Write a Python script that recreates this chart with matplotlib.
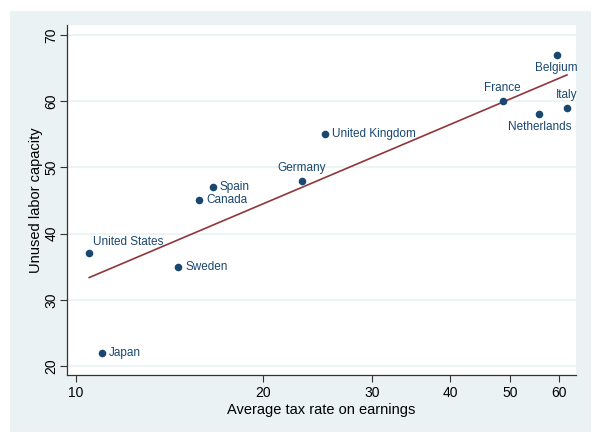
import numpy as np
import matplotlib
matplotlib.use("Agg")
import matplotlib.pyplot as plt
from matplotlib.patches import Rectangle
from matplotlib.ticker import FixedLocator, NullLocator

plt.rcParams['font.family'] = ['Liberation Sans', 'DejaVu Sans']

# data
countries = ["Belgium", "France", "Italy", "Netherlands", "United Kingdom",
             "Germany", "Spain", "Canada", "United States", "Sweden", "Japan"]
tax_rate = [59.4, 48.6, 61.7, 55.7, 25.2, 23.1, 16.6, 15.8, 10.5, 14.6, 11.0]
unused_capacity = [67, 60, 59, 58, 55, 48, 47, 45, 37, 35, 22]
# where the label sits relative to its marker
label_pos = ["below", "above", "above", "below", "right",
             "above", "right", "right", "upright", "right", "right"]

xticks = [10, 20, 30, 40, 50, 60]
yticks = [20, 30, 40, 50, 60, 70]

navy = "#1a476f"
maroon = "#90353b"
panel = "#eaf2f3"

fig = plt.figure(figsize=(6, 4.42), dpi=100)
fig.patch.set_facecolor("white")
fig.patches.append(Rectangle((0.0167, 0.0226), 0.968, 0.952, transform=fig.transFigure,
                             facecolor=panel, edgecolor="none", zorder=-10))

ax = fig.add_axes([0.1117, 0.1516, 0.8483, 0.7919])
ax.set_facecolor("white")

ax.set_xscale("log")
ax.set_xlim(9.67, 63.8)
ax.set_ylim(18.64, 71.5)

ax.scatter(tax_rate, unused_capacity, s=30, color=navy, zorder=3, linewidths=0)

# linear fit of y on log(x)
lx = np.log(tax_rate)
b, a = np.polyfit(lx, unused_capacity, 1)
xs = np.linspace(min(tax_rate), max(tax_rate), 100)
ax.plot(xs, a + b * np.log(xs), color=maroon, lw=1.2, zorder=2)

offsets = {"right": ((5, 0), "left", "center"),
           "above": ((0, 5), "center", "bottom"),
           "below": ((0, -5), "center", "top"),
           "upright": ((3, 4), "left", "bottom")}
for name, x, y, p in zip(countries, tax_rate, unused_capacity, label_pos):
    off, ha, va = offsets[p]
    ax.annotate(name, (x, y), xytext=off, textcoords="offset points",
                ha=ha, va=va, fontsize=8.5, color=navy)

ax.xaxis.set_major_locator(FixedLocator(xticks))
ax.xaxis.set_minor_locator(NullLocator())
ax.set_xticklabels([str(t) for t in xticks])
ax.set_yticks(yticks)
ax.set_yticklabels([str(t) for t in yticks], rotation=90, va="center")

ax.grid(axis="y", color=panel, lw=1.2)
ax.set_axisbelow(True)
for s in ["top", "right"]:
    ax.spines[s].set_visible(False)
for s in ["left", "bottom"]:
    ax.spines[s].set_color("#333333")
    ax.spines[s].set_linewidth(0.9)
ax.tick_params(axis="x", direction="out", length=5, color="#333333",
               labelsize=10, labelcolor="black", pad=3)
ax.tick_params(axis="y", direction="out", length=5, color="#333333",
               labelsize=10, labelcolor="black", pad=1)

ax.set_xlabel("Average tax rate on earnings", fontsize=10.5, labelpad=2)
ax.set_ylabel("Unused labor capacity", fontsize=10.5, labelpad=1)

fig.savefig("out.png", dpi=100, facecolor=fig.get_facecolor())
